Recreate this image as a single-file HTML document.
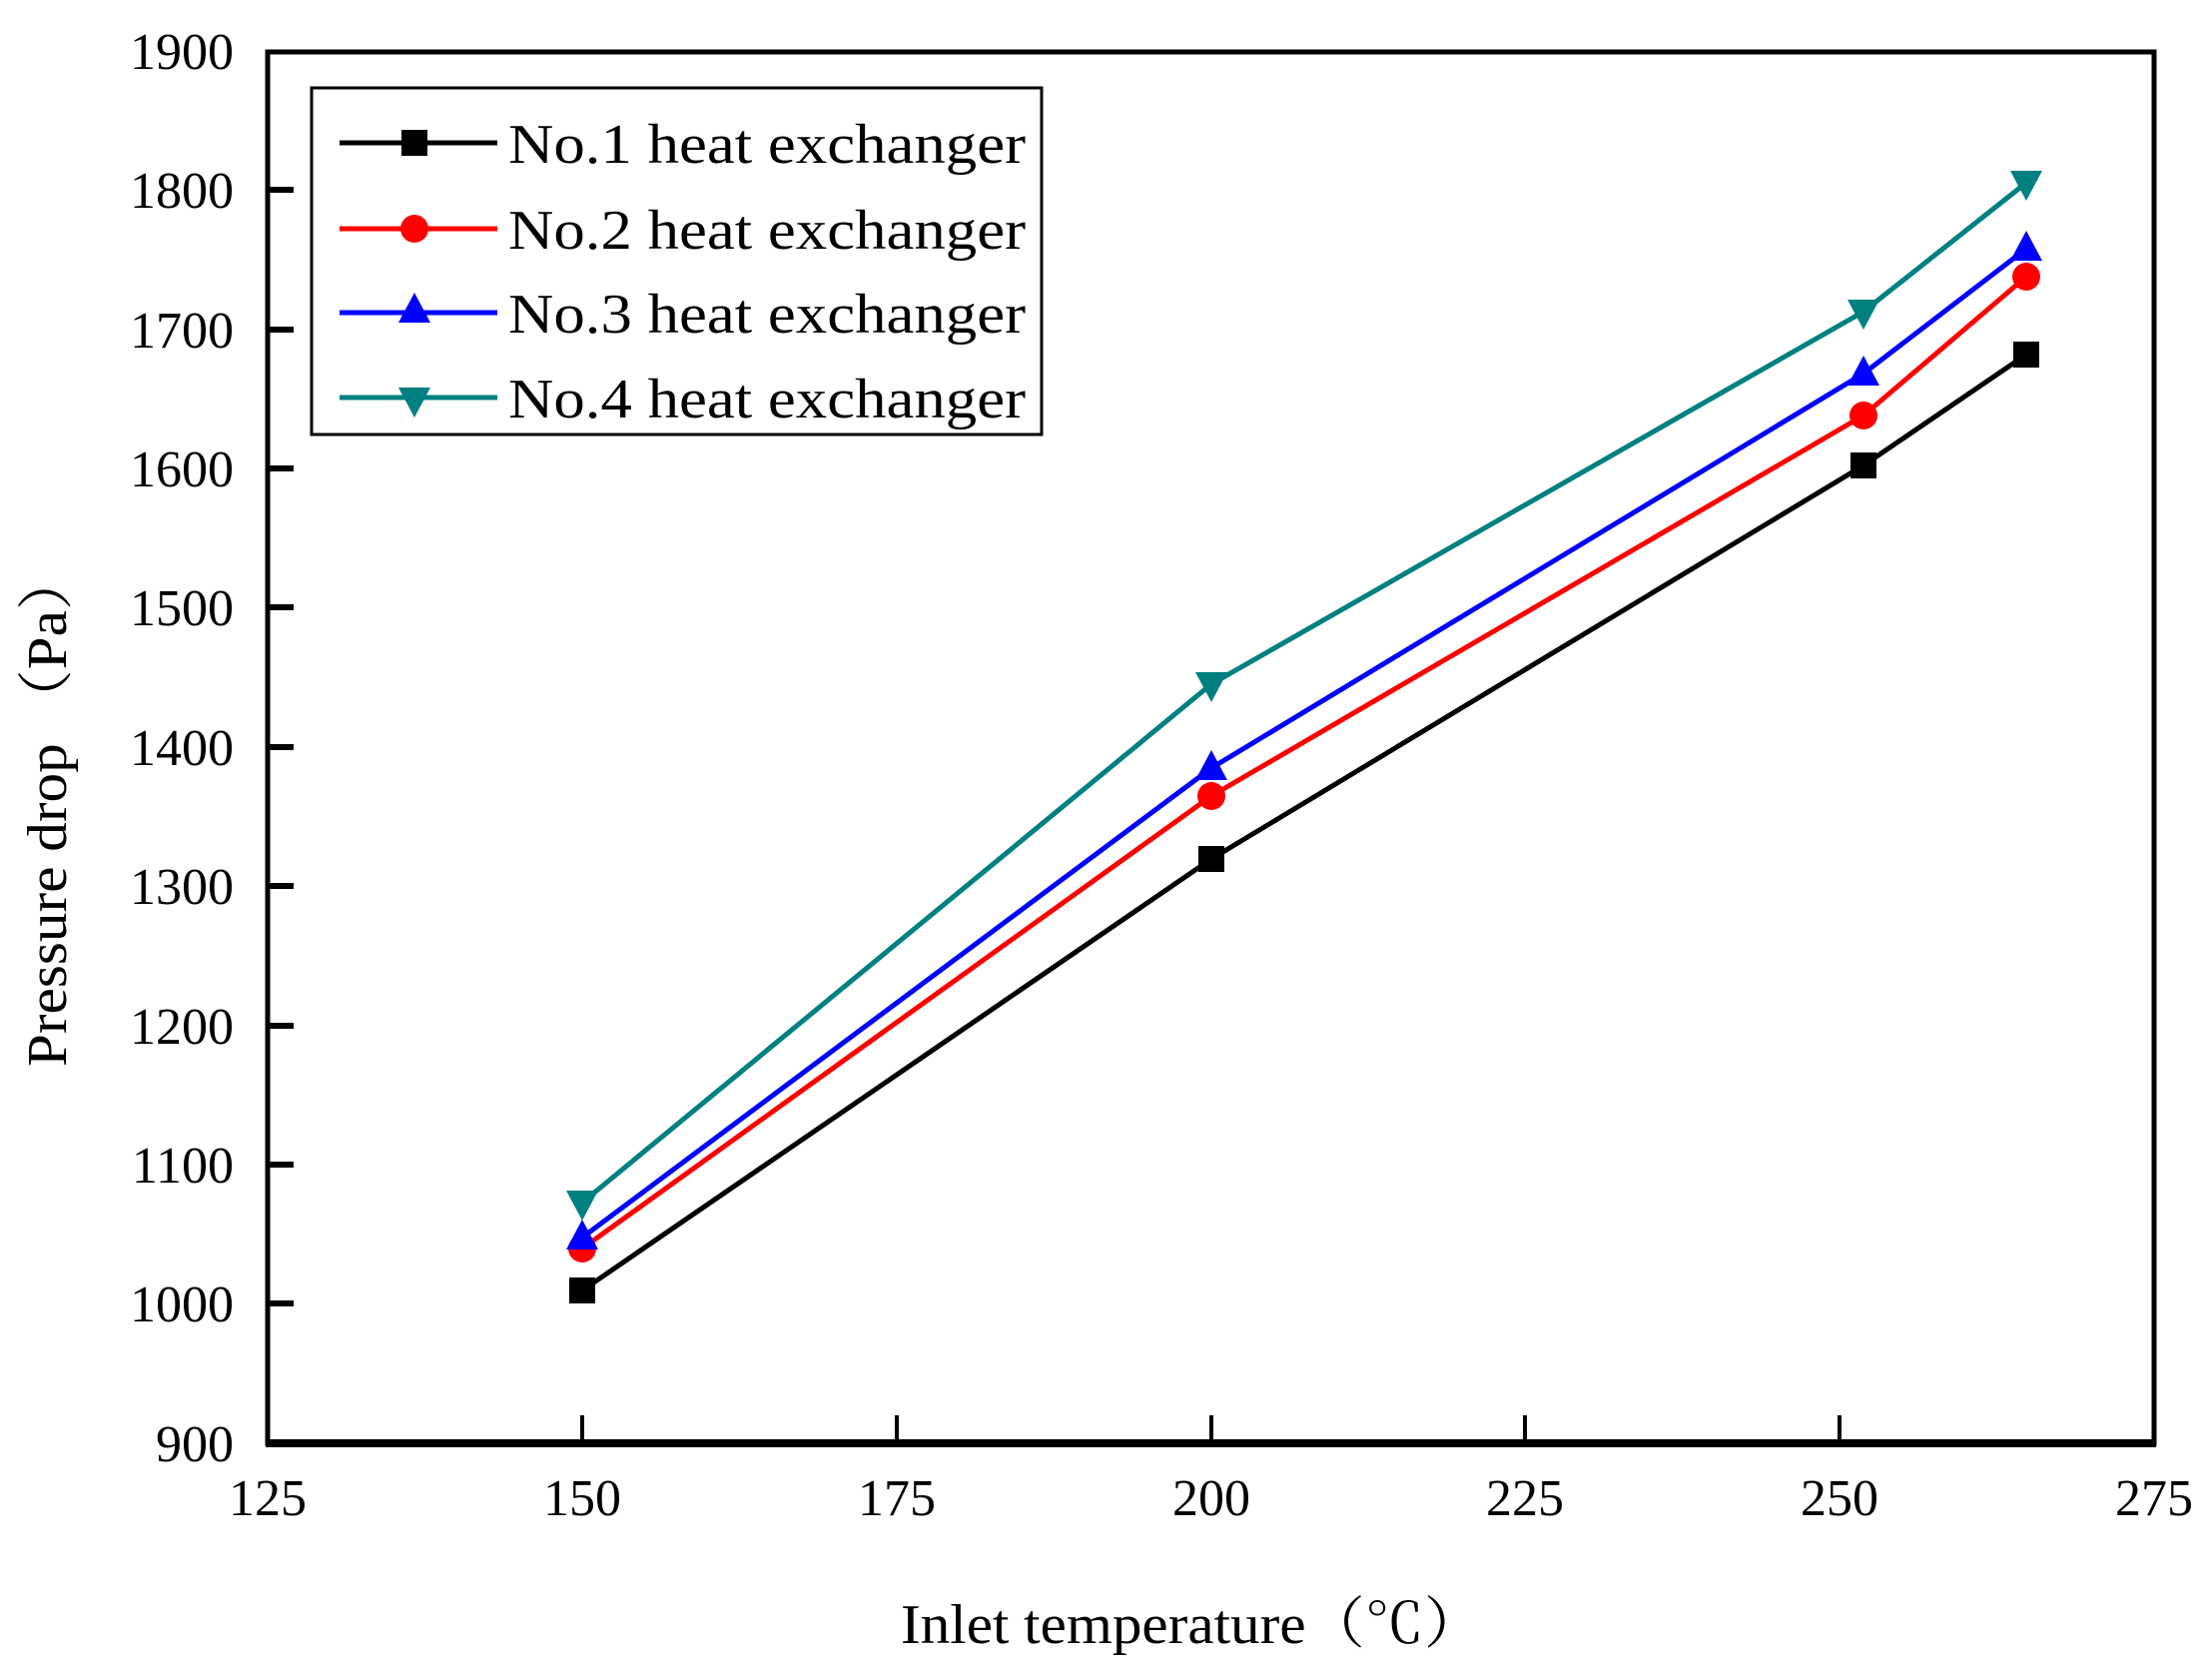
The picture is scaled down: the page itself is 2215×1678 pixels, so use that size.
<!DOCTYPE html>
<html><head><meta charset="utf-8"><style>
html,body{margin:0;padding:0;background:#fff;}
svg text{font-family:"Liberation Serif","Noto Serif CJK SC",serif;fill:#000;}
</style></head><body>
<svg width="2215" height="1673" viewBox="0 0 2215 1673" xmlns="http://www.w3.org/2000/svg">
<defs>
<g id="sq"><rect x="-13" y="-13" width="26" height="26" fill="#000"/></g>
<g id="ci"><circle r="14" fill="#f00"/></g>
<g id="tu"><polygon points="0,-18 16,12 -16,12" fill="#00f"/></g>
<g id="td"><polygon points="0,18 16,-12 -16,-12" fill="#008080"/></g>
</defs>
<rect x="268" y="52" width="1889" height="1393" fill="none" stroke="#000" stroke-width="5"/>
<line x1="266" y1="1445" x2="2159" y2="1445" stroke="#000" stroke-width="8"/>
<g stroke="#000" stroke-width="4">
<line x1="583" y1="1445" x2="583" y2="1417"/>
<line x1="898" y1="1445" x2="898" y2="1417"/>
<line x1="1213" y1="1445" x2="1213" y2="1417"/>
<line x1="1527" y1="1445" x2="1527" y2="1417"/>
<line x1="1842" y1="1445" x2="1842" y2="1417"/>
</g>
<g stroke="#000" stroke-width="6">
<line x1="268" y1="1305" x2="294" y2="1305"/>
<line x1="268" y1="1166" x2="294" y2="1166"/>
<line x1="268" y1="1027" x2="294" y2="1027"/>
<line x1="268" y1="887" x2="294" y2="887"/>
<line x1="268" y1="748" x2="294" y2="748"/>
<line x1="268" y1="608" x2="294" y2="608"/>
<line x1="268" y1="469" x2="294" y2="469"/>
<line x1="268" y1="330" x2="294" y2="330"/>
<line x1="268" y1="190" x2="294" y2="190"/>
</g>
<g font-size="52" text-anchor="end">
<text x="234" y="1463">900</text>
<text x="234" y="1323">1000</text>
<text x="234" y="1184">1100</text>
<text x="234" y="1045">1200</text>
<text x="234" y="905">1300</text>
<text x="234" y="766">1400</text>
<text x="234" y="626">1500</text>
<text x="234" y="487">1600</text>
<text x="234" y="348">1700</text>
<text x="234" y="208">1800</text>
<text x="234" y="69">1900</text>
</g>
<g font-size="52" text-anchor="middle">
<text x="268" y="1517">125</text>
<text x="583" y="1517">150</text>
<text x="898" y="1517">175</text>
<text x="1213" y="1517">200</text>
<text x="1527" y="1517">225</text>
<text x="1842" y="1517">250</text>
<text x="2157" y="1517">275</text>
</g>
<text x="902" y="1645" font-size="56" textLength="583" lengthAdjust="spacingAndGlyphs">Inlet temperature（℃）</text>
<text transform="translate(66,1068) rotate(-90)" font-size="56" textLength="516" lengthAdjust="spacingAndGlyphs">Pressure drop （Pa）</text>
<polyline points="583,1292 1213,860 1866,466 2029,355" fill="none" stroke="#000" stroke-width="5"/>
<polyline points="583,1250 1213,797 1866,416 2029,277" fill="none" stroke="#f00" stroke-width="5"/>
<polyline points="583,1239 1213,769 1866,374 2029,249" fill="none" stroke="#00f" stroke-width="5"/>
<polyline points="583,1204 1213,685 1866,312 2029,183" fill="none" stroke="#008080" stroke-width="5"/>
<g><use href="#sq" x="583" y="1292"/><use href="#sq" x="1213" y="860"/><use href="#sq" x="1866" y="466"/><use href="#sq" x="2029" y="355"/></g>
<g><use href="#ci" x="583" y="1250"/><use href="#ci" x="1213" y="797"/><use href="#ci" x="1866" y="416"/><use href="#ci" x="2029" y="277"/></g>
<g><use href="#tu" x="583" y="1239"/><use href="#tu" x="1213" y="769"/><use href="#tu" x="1866" y="374"/><use href="#tu" x="2029" y="249"/></g>
<g><use href="#td" x="583" y="1204"/><use href="#td" x="1213" y="685"/><use href="#td" x="1866" y="312"/><use href="#td" x="2029" y="183"/></g>
<rect x="312" y="88" width="731" height="347" fill="#fff" stroke="#000" stroke-width="3"/>
<line x1="340" y1="143" x2="498" y2="143" stroke="#000" stroke-width="5"/><use href="#sq" x="415" y="143"/>
<line x1="340" y1="229" x2="498" y2="229" stroke="#f00" stroke-width="5"/><use href="#ci" x="415" y="229"/>
<line x1="340" y1="313" x2="498" y2="313" stroke="#00f" stroke-width="5"/><use href="#tu" x="415" y="311"/>
<line x1="340" y1="398" x2="498" y2="398" stroke="#008080" stroke-width="5"/><use href="#td" x="415" y="400"/>
<g font-size="56">
<text x="509" y="163" textLength="518" lengthAdjust="spacingAndGlyphs">No.1 heat exchanger</text>
<text x="509" y="249" textLength="518" lengthAdjust="spacingAndGlyphs">No.2 heat exchanger</text>
<text x="509" y="333" textLength="518" lengthAdjust="spacingAndGlyphs">No.3 heat exchanger</text>
<text x="509" y="418" textLength="518" lengthAdjust="spacingAndGlyphs">No.4 heat exchanger</text>
</g>
</svg>
</body></html>
